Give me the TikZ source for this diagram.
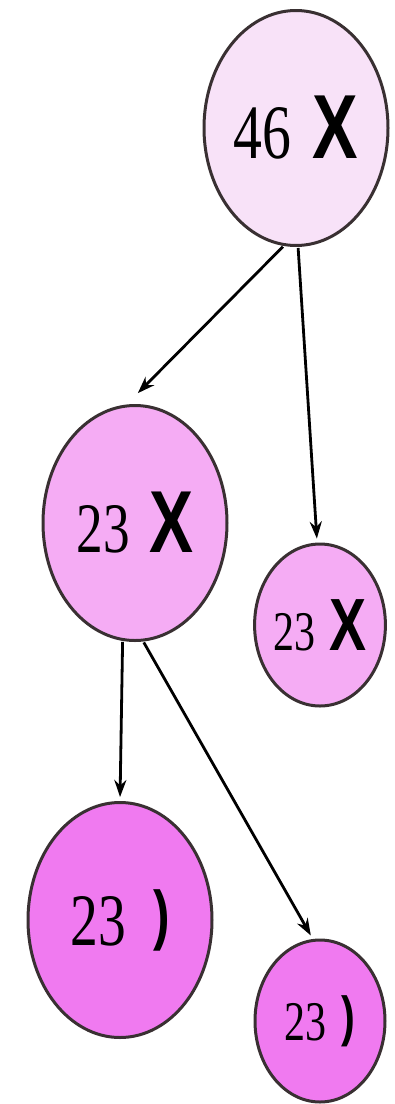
\documentclass[tikz,border=0pt]{standalone}
\usepackage{fontspec}
\setmainfont{Liberation Serif}
\setsansfont{Liberation Sans}
\usetikzlibrary{shapes.geometric, arrows.meta}

\definecolor{palepink}{RGB}{248,226,248}
\definecolor{midpink}{RGB}{245,172,244}
\definecolor{deeppink}{RGB}{240,122,240}

% number, gap, glyph, all squeezed sideways like the reference
\newcommand{\celltext}[5]{\scalebox{0.75}[1]{\fontsize{#1}{#1}\selectfont #3\hspace{#5}\fontsize{#2}{#2}\selectfont #4}}
\newcommand{\chromX}{\sffamily\bfseries X}
\newcommand{\chromY}[1]{\raisebox{#1}{\sffamily\bfseries )}}

\begin{document}
\begin{tikzpicture}[x=1pt, y=-1pt, >={Stealth[length=17pt, width=12pt]}]

    \useasboundingbox (0,0) rectangle (395,1104);

    \tikzset{
        cell/.style={ellipse, draw=black!90!magenta, line width=3pt, inner sep=0pt, text=black},
        bigcell/.style={cell, minimum width=184pt, minimum height=235pt},
        smallcell/.style={cell, minimum width=130pt, minimum height=162pt},
        link/.style={->, line width=2.8pt, shorten >=4pt, shorten <=1pt}
    }

    % Top cell
    \node[bigcell, fill=palepink] (parent) at (296,128)
        {\celltext{77pt}{91pt}{46}{\chromX}{28pt}};

    % Second row
    \node[bigcell, fill=midpink] (leftX) at (135,523)
        {\celltext{71pt}{88pt}{23}{\chromX}{26pt}};
    \node[smallcell, fill=midpink] (rightX) at (320,625)
        {\celltext{56pt}{74pt}{23}{\chromX}{18pt}};

    % Bottom row
    \node[bigcell, fill=deeppink] (leftY) at (120,920)
        {\celltext{74pt}{66pt}{23}{\chromY{8pt}}{36pt}};
    \node[smallcell, fill=deeppink] (rightY) at (320,1021)
        {\celltext{56pt}{55pt}{23}{\chromY{5pt}}{20pt}};

    % Arrows
    \draw[link] (parent.-96) -- ([shift={(0,-8)}]leftX.north);
    \draw[link] (parent.-89) -- (rightX.92);
    \draw[link] (leftX.-96) -- (leftY.north);
    \draw[link] (leftX.-86) -- (rightY.95);

\end{tikzpicture}
\end{document}
